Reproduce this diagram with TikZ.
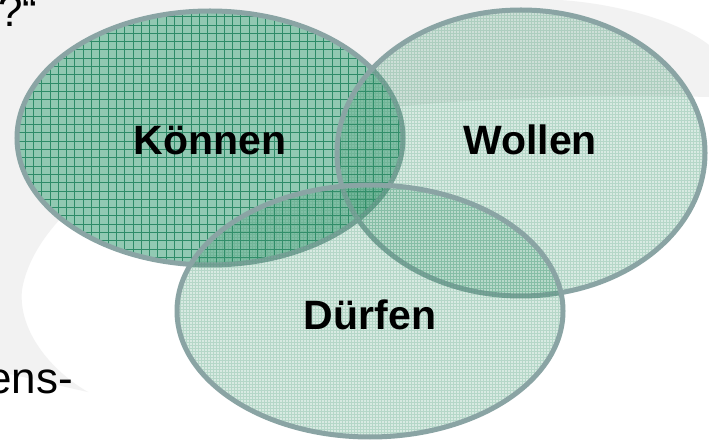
\documentclass[tikz,border=0pt]{standalone}
\usepackage{fontspec}
\setmainfont{Liberation Sans}
\definecolor{rim}{RGB}{138,164,164}
\definecolor{koennenfill}{RGB}{135,196,171}
\definecolor{koennengrid}{RGB}{46,139,104}
\definecolor{setgreen}{RGB}{60,150,110}
\definecolor{swoosh}{RGB}{242,242,242}
\begin{document}
\begin{tikzpicture}[x=1pt,y=-1pt,line cap=round,
    rimline/.style={draw=rim,line width=5pt},
    setname/.style={anchor=base,inner sep=0pt,font=\fontsize{41}{49}\selectfont\bfseries},
    sidetext/.style={inner sep=0pt,font=\fontsize{44}{52}\selectfont}]
        \useasboundingbox (0,0) rectangle (709,443);
        \fill[white] (0,0) rectangle (709,443);

        % faint swoosh behind the sets
        \fill[swoosh] (0,0) -- (560,0) .. controls (620,4) and (680,22) .. (709,45)
          -- (709,97) .. controls (500,92) and (260,108) .. (140,160)
          .. controls (80,190) and (30,240) .. (22,290)
          .. controls (18,330) and (50,370) .. (88,392)
          .. controls (60,386) and (25,377) .. (0,372) -- cycle;

        % cut-off text at the margin
        \node[sidetext,anchor=base west] (frage) at (-2,27) {?“};
        \node[sidetext,anchor=base east] (wissen) at (73,393) {ens-};

        % Koennen: coarse grid
        \begin{scope}
          \clip (210,138) ellipse [x radius=193, y radius=127];
          \fill[koennenfill,fill opacity=0.9] (0,0) rectangle (420,280);
          \draw[koennengrid,line width=0.6pt,step=8.3pt] (0,0) grid (420,280);
        \end{scope}
        \draw[rimline] (210,138) ellipse [x radius=193, y radius=127];

        % Wollen and Duerfen: light, see-through fill
        \foreach \cx/\cy/\rx/\ry in {521/153/184/143, 370/311/193/126}
        {
          \begin{scope}
            \clip (\cx,\cy) ellipse [x radius=\rx, y radius=\ry];
            \fill[setgreen,fill opacity=0.2] (\cx-\rx,\cy-\ry) rectangle (\cx+\rx,\cy+\ry);
            \draw[setgreen,opacity=0.22,line width=0.5pt,step=3pt] (\cx-\rx,\cy-\ry) grid (\cx+\rx,\cy+\ry);
          \end{scope}
          \draw[rimline] (\cx,\cy) ellipse [x radius=\rx, y radius=\ry];
        }

        \node[setname] (koennen) at (210,155) {Können};
        \node[setname] (wollen) at (530,155) {Wollen};
        \node[setname] (duerfen) at (370,330) {Dürfen};
      \end{tikzpicture}
\end{document}
